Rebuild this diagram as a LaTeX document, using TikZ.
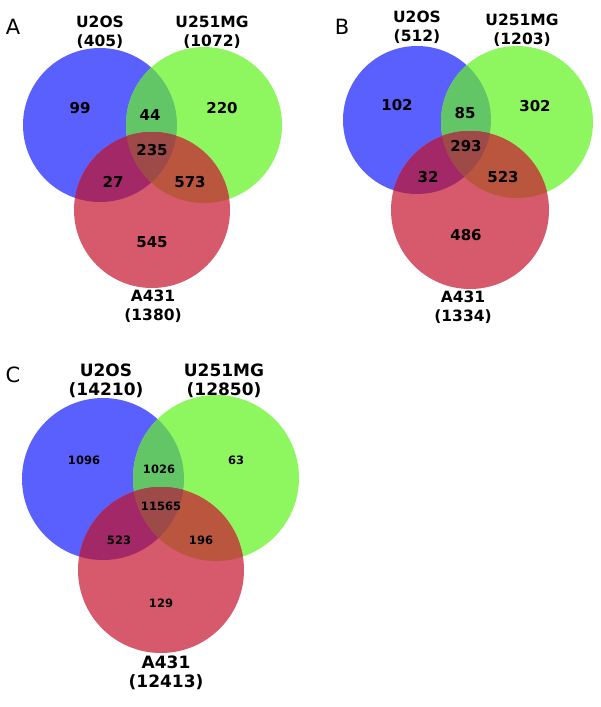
\documentclass[tikz,border=0pt]{standalone}
\usepackage{fontspec}
\setmainfont{DejaVu Sans}
\definecolor{cB}{RGB}{90,96,254}
\definecolor{cG}{RGB}{142,247,96}
\definecolor{cR}{RGB}{214,89,108}
\definecolor{cBG}{RGB}{98,198,102}
\definecolor{cBR}{RGB}{163,40,104}
\definecolor{cGR}{RGB}{186,86,62}
\definecolor{cBGR}{RGB}{158,74,72}
\newcommand{\vennfill}[6]{%
  \fill[cB] (#1) circle[radius=#2pt];
  \fill[cG] (#3) circle[radius=#4pt];
  \begin{scope}\clip (#1) circle[radius=#2pt]; \fill[cBG] (#3) circle[radius=#4pt];\end{scope}
  \fill[cR] (#5) circle[radius=#6pt];
  \begin{scope}\clip (#1) circle[radius=#2pt]; \fill[cBR] (#5) circle[radius=#6pt];\end{scope}
  \begin{scope}\clip (#3) circle[radius=#4pt]; \fill[cGR] (#5) circle[radius=#6pt];\end{scope}
  \begin{scope}\clip (#1) circle[radius=#2pt]; \clip (#3) circle[radius=#4pt]; \fill[cBGR] (#5) circle[radius=#6pt];\end{scope}
}
\tikzset{
  panel/.style={font=\fontsize{21}{21}\selectfont, inner sep=0pt},
  lab/.style={font=\fontsize{15.5}{19}\selectfont\bfseries, align=center, inner sep=0pt},
  labc/.style={font=\fontsize{17}{19}\selectfont\bfseries, align=center, inner sep=0pt},
  num/.style={font=\fontsize{15}{15}\selectfont\bfseries, inner sep=0pt},
  numc/.style={font=\fontsize{11.5}{11.5}\selectfont\bfseries, inner sep=0pt}
}
\begin{document}
\begin{tikzpicture}[x=1pt,y=-1pt]
\useasboundingbox[fill=white] (0,0) rectangle (600,707);
% Panel A
\vennfill{100,125}{77}{204,125}{78}{152,210}{78}
\node[panel] (pA) at (13,27) {A};
\node[lab] (lA1) at (100,32) {U2OS\\(405)};
\node[lab] (lA2) at (212,32) {U251MG\\(1072)};
\node[lab] (lA3) at (153,306) {A431\\(1380)};
\node[num] (a1) at (80,108) {99};
\node[num] (a2) at (150,115) {44};
\node[num] (a3) at (222,108) {220};
\node[num] (a4) at (152,150) {235};
\node[num] (a5) at (113,182) {27};
\node[num] (a6) at (190,182) {573};
\node[num] (a7) at (152,242) {545};
% Panel B
\vennfill{417,120}{74}{517,122}{76}{470,210}{79}
\node[panel] (pB) at (342,27) {B};
\node[lab] (lB1) at (417,27) {U2OS\\(512)};
\node[lab] (lB2) at (522,30) {U251MG\\(1203)};
\node[lab] (lB3) at (463,307) {A431\\(1334)};
\node[num] (b1) at (397,105) {102};
\node[num] (b2) at (465,113) {85};
\node[num] (b3) at (535,106) {302};
\node[num] (b4) at (466,146) {293};
\node[num] (b5) at (428,177) {32};
\node[num] (b6) at (503,177) {523};
\node[num] (b7) at (466,235) {486};
% Panel C
\vennfill{103,479}{81}{216,478}{83}{161,570}{83}
\node[panel] (pC) at (13,375) {C};
\node[labc] (lC1) at (106,381) {U2OS\\(14210)};
\node[labc] (lC2) at (224,381) {U251MG\\(12850)};
\node[labc] (lC3) at (166,673) {A431\\(12413)};
\node[numc] (c1) at (84,460) {1096};
\node[numc] (c2) at (159,469) {1026};
\node[numc] (c3) at (236,460) {63};
\node[numc] (c4) at (161,506) {11565};
\node[numc] (c5) at (119,540) {523};
\node[numc] (c6) at (201,540) {196};
\node[numc] (c7) at (161,603) {129};
\end{tikzpicture}
\end{document}
